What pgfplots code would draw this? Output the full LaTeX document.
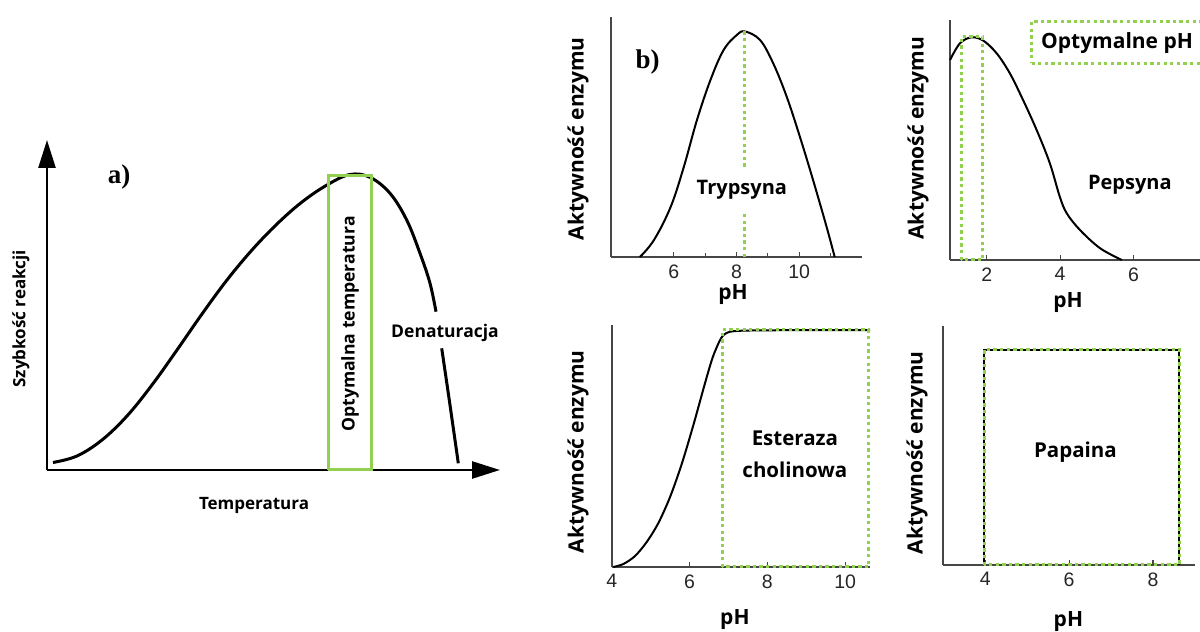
\documentclass[border=0pt]{standalone}
\usepackage{pgfplots}
\pgfplotsset{compat=1.18}
\usepackage{fontspec}
\setmainfont{Open Sans}
\newfontfamily\tickfont{Liberation Sans}
\newfontfamily\serifb{Liberation Serif}
\usetikzlibrary{arrows.meta}
\definecolor{optgreen}{RGB}{146,208,80}
\definecolor{axgray}{RGB}{70,70,70}
\pgfplotsset{
  panelb/.style={
    scale only axis,
    axis lines=left,
    axis line style={-, draw=axgray, line width=1.8pt},
    ytick=\empty,
    xtick align=inside,
    major tick length=5pt,
    minor tick length=4pt,
    tick style={axgray, line width=1.2pt},
    xticklabel style={font=\tickfont\fontsize{19.5}{19.5}\selectfont, text=black!85, yshift=-4pt},
    /pgf/number format/assume math mode=true,
    clip=false,
    label style={font=\bfseries\fontsize{21}{24}\selectfont},
    ymin=0,
  },
  gdot/.style={optgreen, line width=3pt, dash pattern=on 3.3pt off 3.3pt, no markers},
}
\begin{document}
\begin{tikzpicture}
\path[use as bounding box] (0,0) rectangle (1200pt,632pt);

% ---------- panel a ----------
\begin{axis}[
  at={(47pt,162pt)}, anchor=south west,
  scale only axis, width=453pt, height=330pt,
  xmin=0, xmax=453, ymin=0, ymax=330,
  axis lines=left,
  axis line style={-{Triangle[length=28pt,width=17pt]}, line width=2.5pt, black},
  xtick=\empty, ytick=\empty, clip=false,
  label style={font=\bfseries\fontsize{17}{20}\selectfont},
  xlabel={Temperatura},
  xlabel style={at={(axis description cs:0.457,-0.106)}, anchor=center},
  ylabel={Szybkość reakcji},
  ylabel style={at={(axis description cs:-0.0574,0.458)}, anchor=center},
]
\addplot[black, line width=3pt, smooth, tension=0.6, no markers] coordinates {
(6,7.5) (30,14) (55,30) (80,54) (105,85) (130,120) (155,156) (180,190)
(205,220) (230,246) (255,268) (280,285) (303,295.5) (323,292.7) (343,276.7)
(359.7,250) (373,216.7) (383,186.7) (389,158.3)};
\addplot[black, line width=3pt, smooth, no markers] coordinates {
(394.7,121.7) (401.3,76.7) (408,30) (411.3,6.7)};
\addplot[optgreen, line width=3pt, no markers, line join=miter] coordinates {
(281,0) (281,294) (324,294) (324,0) (281,0)};
\node[rotate=90, font=\bfseries\fontsize{17.6}{20}\selectfont] at (axis cs:303,146) {Optymalna temperatura};
\node[font=\bfseries\fontsize{17.5}{20}\selectfont] at (axis cs:398,137) {Denaturacja};
\node[font=\serifb\bfseries\fontsize{27}{30}\selectfont] at (axis cs:72,293) {a)};
\end{axis}

% ---------- Trypsyna ----------
\begin{axis}[panelb,
  at={(611pt,375pt)}, anchor=south west,
  width=251pt, height=240pt,
  xmin=4, xmax=12, ymax=240,
  xtick={6,8,10}, minor xtick={5,7,9,11},
  xlabel={pH},
  xlabel style={at={(axis description cs:0.486,-0.158)}, anchor=center},
  ylabel={Aktywność enzymu},
  ylabel style={at={(axis description cs:-0.131,0.492)}, anchor=center},
]
\addplot[black, line width=2pt, smooth, tension=0.6, no markers] coordinates {
(4.92,0) (5.37,17) (5.90,50) (6.32,90) (6.74,137) (7.17,177) (7.59,207)
(8.01,222) (8.27,225.5) (8.75,217) (9.17,193.7) (9.60,160.3) (10.02,120.3)
(10.44,77) (10.87,30.3) (11.13,0)};
\addplot[gdot] coordinates {(8.24,0) (8.24,44.3)};
\addplot[gdot] coordinates {(8.24,90.3) (8.24,225.5)};
\node[font=\bfseries\fontsize{20}{24}\selectfont] at (axis cs:8.17,67) {Trypsyna};
\node[font=\serifb\bfseries\fontsize{27}{30}\selectfont] at (axis cs:5.165,195) {b)};
\end{axis}

% ---------- Pepsyna ----------
\begin{axis}[panelb,
  at={(950pt,372pt)}, anchor=south west,
  width=250pt, height=240pt,
  xmin=1, xmax=7.81, ymax=240,
  xtick={2,4,6},
  xlabel={pH},
  xlabel style={at={(axis description cs:0.472,-0.179)}, anchor=center},
  ylabel={Aktywność enzymu},
  ylabel style={at={(axis description cs:-0.128,0.508)}, anchor=center},
]
\addplot[black, line width=2pt, smooth, tension=0.55, no markers] coordinates {
(1.0,200) (1.27,216.7) (1.59,222.7) (1.91,219.3) (2.27,206.7) (2.63,186.7)
(2.99,160) (3.36,130) (3.72,96.7) (3.99,63.3) (4.18,46.7) (4.54,30)
(5.09,11.7) (5.68,0)};
\addplot[gdot] coordinates {(1.31,0) (1.31,223) (1.89,223) (1.89,0) (1.31,0)};
\node[font=\bfseries\fontsize{20}{24}\selectfont] at (axis cs:5.90,75) {Pepsyna};
\node[draw=optgreen, line width=3pt, dash pattern=on 3.3pt off 3.3pt,
      minimum width=180pt, minimum height=42pt, anchor=north west, inner sep=0pt]
      at (axis cs:3.18,240) {};
\node[font=\bfseries\fontsize{21}{24}\selectfont] at (axis cs:5.55,217) {Optymalne pH};
\end{axis}

% ---------- Esteraza ----------
\begin{axis}[panelb,
  at={(611.7pt,65pt)}, anchor=south west,
  width=258.3pt, height=242pt,
  xmin=4, xmax=10.64, ymax=242,
  xtick={4,6,8,10},
  xlabel={pH},
  xlabel style={at={(axis description cs:0.477,-0.219)}, anchor=center},
  ylabel={Aktywność enzymu},
  ylabel style={at={(axis description cs:-0.130,0.476)}, anchor=center},
]
\addplot[black, line width=2pt, smooth, tension=0.5, no markers] coordinates {
(4.04,0) (4.3,3) (4.6,11) (4.9,25) (5.2,44) (5.5,70) (5.8,103) (6.1,142)
(6.4,184) (6.6,210) (6.8,228) (6.95,234) (7.2,236) (8.0,236.7) (10.64,237)};
\addplot[gdot] coordinates {(6.84,0) (6.84,237) (10.6,237) (10.6,0) (6.84,0)};
\node[font=\bfseries\fontsize{20.5}{32}\selectfont, align=center] at (axis cs:8.71,113) {Esteraza\\cholinowa};
\end{axis}

% ---------- Papaina ----------
\begin{axis}[panelb,
  at={(943.3pt,67pt)}, anchor=south west,
  width=251.7pt, height=239pt,
  xmin=3, xmax=9, ymax=239,
  xtick={4,6,8},
  xlabel={pH},
  xlabel style={at={(axis description cs:0.497,-0.237)}, anchor=center},
  ylabel={Aktywność enzymu},
  ylabel style={at={(axis description cs:-0.1045,0.469)}, anchor=center},
]
\addplot[black, line width=1.3pt, no markers] coordinates {(3.97,0) (3.97,215) (8.62,215) (8.62,0)};
\addplot[gdot] coordinates {(3.97,0) (3.97,215) (8.62,215) (8.62,0) (3.97,0)};
\node[font=\bfseries\fontsize{20.5}{24}\selectfont] at (axis cs:6.15,113.3) {Papaina};
\end{axis}
\end{tikzpicture}
\end{document}
